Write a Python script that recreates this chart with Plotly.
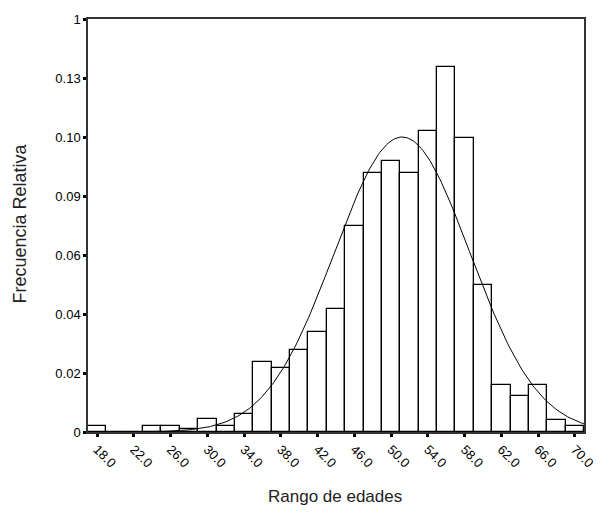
import numpy as np
import plotly.graph_objects as go

# Bin centres (age, bins of width 2) and relative frequencies
bin_centers = [18, 20, 22, 24, 26, 28, 30, 32, 34, 36, 38, 40, 42, 44, 46, 48,
               50, 52, 54, 56, 58, 60, 62, 64, 66, 68, 70]
rel_freq = [0.0022, 0.0, 0.0, 0.0022, 0.0022, 0.0011, 0.0044, 0.0022, 0.0060,
            0.0238, 0.0217, 0.0277, 0.0339, 0.0418, 0.0698, 0.0879, 0.0918,
            0.0879, 0.1020, 0.1238, 0.0998, 0.0500, 0.0161, 0.0121, 0.0161,
            0.0040, 0.0022]
bin_width = 2

# Normal curve overlay parameters
curve_mean = 51.2
curve_sd = 7.4
curve_peak = 0.100

x_tickvals = [18, 22, 26, 30, 34, 38, 42, 46, 50, 54, 58, 62, 66, 70]
x_ticktext = ["18.0", "22.0", "26.0", "30.0", "34.0", "38.0", "42.0", "46.0",
              "50.0", "54.0", "58.0", "62.0", "66.0", "70.0"]
y_tickvals = [0, 0.02, 0.04, 0.06, 0.08, 0.10, 0.12, 0.14]
y_ticktext = ["0", "0.02", "0.04", "0.06", "0.09", "0.10", "0.13", "1"]

curve_x = np.linspace(17, 71, 300)
curve_y = curve_peak * np.exp(-0.5 * ((curve_x - curve_mean) / curve_sd) ** 2)

fig = go.Figure()
fig.add_trace(go.Bar(
    x=bin_centers, y=rel_freq, width=bin_width,
    marker=dict(color="white", line=dict(color="black", width=1.3)),
    showlegend=False, hoverinfo="x+y",
))
fig.add_trace(go.Scatter(
    x=curve_x, y=curve_y, mode="lines",
    line=dict(color="black", width=1), showlegend=False,
))

axis_font = dict(family="Arial, Liberation Sans, sans-serif", size=13, color="black")

fig.update_layout(
    width=615, height=520,
    margin=dict(l=88, r=31, t=15, b=88),
    paper_bgcolor="white", plot_bgcolor="white",
    bargap=0,
    xaxis=dict(
        range=[17, 71], tickvals=x_tickvals, ticktext=x_ticktext,
        tickangle=45, ticks="outside", ticklen=3, tickwidth=3, tickcolor="black",
        showline=True, linecolor="#333333", linewidth=1.5, mirror=True,
        showgrid=False, zeroline=False, tickfont=axis_font,
    ),
    yaxis=dict(
        range=[0, 0.14], tickvals=y_tickvals, ticktext=y_ticktext,
        ticks="outside", ticklen=3, tickwidth=3, tickcolor="black",
        showline=True, linecolor="#333333", linewidth=1.5, mirror=True,
        showgrid=False, zeroline=False, tickfont=axis_font,
    ),
    annotations=[
        dict(text="Frecuencia Relativa", xref="paper", yref="paper",
             x=-0.137, y=0.505, xanchor="center", yanchor="middle",
             textangle=-90, showarrow=False,
             font=dict(family="Arial, Liberation Sans, sans-serif", size=18, color="#222222")),
        dict(text="Rango de edades", xref="paper", yref="paper",
             x=0.498, y=-0.156, xanchor="center", yanchor="middle",
             showarrow=False,
             font=dict(family="Arial, Liberation Sans, sans-serif", size=17, color="#222222")),
    ],
)

fig.write_html("out.html", config={"displayModeBar": False},
               post_script="document.body.style.margin='0';")
